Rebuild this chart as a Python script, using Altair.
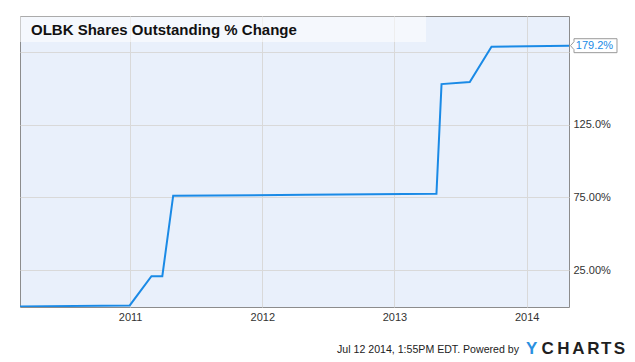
import altair as alt
import pandas as pd

# ---- data ----
dates = ["2010-03-03", "2010-12-31", "2011-03-01", "2011-03-31", "2011-04-30",
         "2012-04-30", "2013-04-27", "2013-05-11", "2013-07-28", "2013-09-26",
         "2014-04-28"]
values = [0.0, 0.7, 20.8, 20.8, 76.1, 76.7, 77.5, 152.8, 154.2, 178.5, 179.2]

x_ticks = [2011, 2012, 2013, 2014]
y_ticks = [25, 75, 125, 175]
y_tick_labels = ["25.00%", "75.00%", "125.0%", ""]  # 175 label hidden by callout

title_text = "OLBK Shares Outstanding % Change"
footer_text = "Jul 12 2014, 1:55PM EDT.  Powered by"


def frac_year(s):
    d = pd.Timestamp(s)
    start = pd.Timestamp(year=d.year, month=1, day=1)
    end = pd.Timestamp(year=d.year + 1, month=1, day=1)
    return d.year + (d - start) / (end - start)


df = pd.DataFrame({"t": [frac_year(d) for d in dates], "v": values})
last = df.tail(1).copy()

FONT = "Liberation Sans"
W, H = 549, 291
x_dom = [df["t"].iloc[0], df["t"].iloc[-1]]

label_expr = " : ".join(
    f"datum.value == {v} ? '{l}'" for v, l in zip(y_ticks, y_tick_labels)
) + " : ''"

xenc = alt.X("t:Q", scale=alt.Scale(domain=x_dom, nice=False, zero=False),
             axis=alt.Axis(values=x_ticks, format="d", title=None, grid=True,
                           gridColor="#d9d9d9", gridWidth=1, ticks=False,
                           domain=False, labelBaseline="alphabetic",
                           labelPadding=13, labelFontSize=11,
                           labelColor="#333333", labelFont=FONT))
yenc = alt.Y("v:Q", scale=alt.Scale(domain=[-0.4, 199.6], nice=False, zero=False),
             axis=alt.Axis(orient="right", values=y_ticks, labelExpr=label_expr,
                           title=None, grid=True, gridColor="#d9d9d9",
                           gridWidth=1, ticks=False, domain=False,
                           labelPadding=4, labelFontSize=11,
                           labelColor="#333333", labelFont=FONT))

line = alt.Chart(df).mark_line(color="#1a8ae6", strokeWidth=2, clip=True).encode(
    x=xenc, y=yenc)

one = pd.DataFrame({"a": [0]})

title_box = alt.Chart(one).mark_rect(fill="white", opacity=0.55).encode(
    x=alt.value(0), x2=alt.value(406), y=alt.value(0.5), y2=alt.value(26))

title = alt.Chart(one).mark_text(
    text=title_text, align="left", baseline="middle", fontSize=15,
    fontWeight="bold", font=FONT, color="#111111").encode(
    x=alt.value(11), y=alt.value(13.5))

callout_path = ("M -1 0 L -0.85 -0.17 L -0.85 -0.30 L 1 -0.30 L 1 0.30 "
                "L -0.85 0.30 L -0.85 0.17 Z")
callout = alt.Chart(last).mark_point(
    shape=callout_path, size=2162, filled=True, fill="white",
    stroke="#9a9a9a", strokeWidth=1, opacity=1).encode(
    x=alt.value(573.75), y=alt.Y("v:Q"))

callout_text = alt.Chart(last).transform_calculate(
    label="format(datum.v, '.1f') + '%'").mark_text(
    align="center", baseline="middle", fontSize=11, font=FONT,
    color="#1a8ae6").encode(
    x=alt.value(574.5), y=alt.Y("v:Q"), text="label:N")

footer = alt.Chart(one).mark_text(
    text=footer_text, align="right", baseline="alphabetic", fontSize=10.6,
    font=FONT, color="#222222").encode(x=alt.value(499), y=alt.value(337))

logo_letters = list("YCHARTS")
logo_df = pd.DataFrame({
    "ch": logo_letters,
    "px": [511.7, 527.7, 543.3, 558.3, 573.5, 586.3, 599.3],
    "col": ["#2a90e0"] + ["#1f1f1f"] * 6,
})
logo = alt.Chart(logo_df).mark_text(
    align="center", baseline="alphabetic", fontSize=17, fontWeight="bold",
    font=FONT).encode(
    x=alt.X("px:Q", scale=None), y=alt.value(337.5), text="ch:N",
    color=alt.Color("col:N", scale=None))

chart = alt.layer(
    title_box, line, title, callout, callout_text, footer, logo
).properties(
    width=W, height=H,
    padding={"left": 12, "top": 8, "right": 58, "bottom": 54},
    autosize=alt.AutoSizeParams(type="none"),
    background="white",
).configure_view(
    fill="#e9f0fb", stroke="#8c8c8c", strokeWidth=1
)

chart.save("out.html", embed_options={"renderer": "svg", "actions": False})
